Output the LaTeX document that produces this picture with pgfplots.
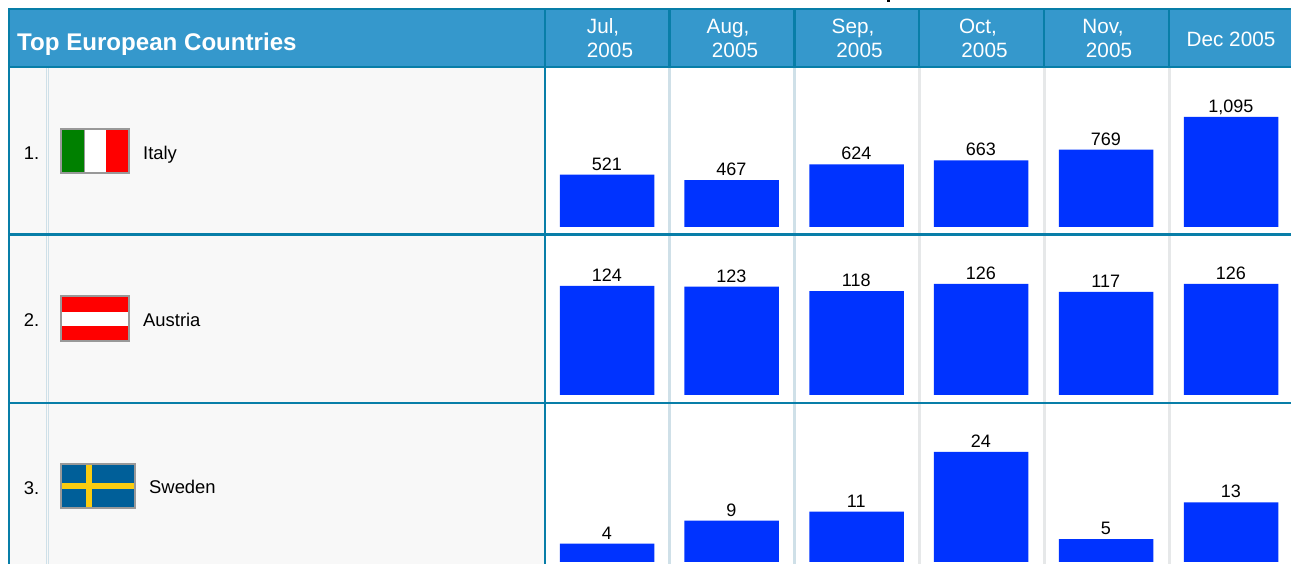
\documentclass[border=0pt]{standalone}
\usepackage{pgfplots}
\usepackage{fontspec}
\setmainfont{Liberation Sans}
\pgfplotsset{compat=1.18}
\definecolor{hdr}{HTML}{3598CC}
\definecolor{edge}{HTML}{087EA8}
\definecolor{cellg}{HTML}{F8F8F8}
\definecolor{barb}{HTML}{0033FF}
\definecolor{sepa}{HTML}{CFE0E8}
\definecolor{sepb}{HTML}{E6E8E9}
\definecolor{flagb}{HTML}{999999}
\definecolor{swe}{HTML}{005F99}
\definecolor{swy}{HTML}{FACC10}
\definecolor{itg}{HTML}{008000}
\newcommand\R[5]{\fill[#1] (axis cs:#2,#3) rectangle (axis cs:#4,#5);}
\newcommand\T[4]{\node[anchor=base,inner sep=0pt,text=#1] at (axis cs:#2,#3) {#4};}
\newcommand\TL[4]{\node[anchor=base west,inner sep=0pt,text=#1] at (axis cs:#2,#3) {#4};}
\pgfplotstableread{
x v
607 521
731.5 467
856.5 624
981 663
1106 769
1231 1095
}\rowone
\pgfplotstableread{
x v
607 124
731.5 123
856.5 118
981 126
1106 117
1231 126
}\rowtwo
\pgfplotstableread{
x v
607 4
731.5 9
856.5 11
981 24
1106 5
1231 13
}\rowthree
\pgfplotsset{rowbar/.style={
  anchor=south west, scale only axis, width=1291pt, xmin=0, xmax=1291, ymin=0,
  axis lines=none, clip=false,
  /pgf/number format/assume math mode=true,
  /pgf/number format/1000 sep={,},
  nodes near coords,
  nodes near coords style={font=\fontsize{18}{18}\selectfont, text=black, anchor=base, inner sep=0pt, yshift=4.5pt, xshift=-0.2pt},
}}
\begin{document}
\begin{tikzpicture}[x=1pt,y=1pt]
\useasboundingbox (0,0) rectangle (1291pt,564pt);
\begin{axis}[at={(0pt,0pt)},anchor=south west,scale only axis,width=1291pt,height=564pt,
  xmin=0,xmax=1291,ymin=0,ymax=564,y dir=reverse,axis lines=none,clip=true]
\addplot[draw=none,forget plot] coordinates {(0,0) (1291,564)};
% left cells
\R{cellg}{10}{68}{545}{564}
% light column separators
\R{sepa}{45.5}{68}{46.5}{564}
\R{sepa}{47.5}{68}{48.5}{564}
\R{sepa}{668}{68}{671}{564}
\R{sepa}{793}{68}{796}{564}
\R{sepb}{917.5}{68}{920.5}{564}
\R{sepb}{1042.5}{68}{1045.5}{564}
\R{sepb}{1167.5}{68}{1170.5}{564}
% header
\R{hdr}{8}{8}{1291}{68}
\R{edge}{8}{8}{1291}{10}
\R{edge}{8}{66}{1291}{68.5}
\R{edge}{8}{8}{10}{564}
\R{edge}{543.5}{8}{546}{564}
\R{edge}{668}{8}{670.5}{68}
\R{edge}{793}{8}{795.5}{68}
\R{edge}{917.5}{8}{920}{68}
\R{edge}{1042.5}{8}{1045}{68}
\R{edge}{1167.5}{8}{1170}{68}
% row rules
\R{edge}{8}{233.5}{1291}{236}
\R{edge}{8}{401.5}{1291}{404}
% clipped title fragment
\R{black}{887}{0}{890}{2}
% header text
\TL{white}{17}{50.5}{\fontsize{24.1}{24.1}\selectfont\bfseries Top European Countries}
\begin{scope}[font=\fontsize{20.7}{20.7}\selectfont]
\T{white}{603}{33.5}{Jul,}
\T{white}{610}{57.5}{2005}
\T{white}{728}{33.5}{Aug,}
\T{white}{735}{57.5}{2005}
\T{white}{853}{33.5}{Sep,}
\T{white}{859.5}{57.5}{2005}
\T{white}{978}{33.5}{Oct,}
\T{white}{984.5}{57.5}{2005}
\T{white}{1103}{33.5}{Nov,}
\T{white}{1109}{57.5}{2005}
\T{white}{1231}{46.5}{Dec 2005}
\end{scope}
% row labels
\begin{scope}[font=\fontsize{18.4}{18.4}\selectfont]
\T{black}{31.5}{159.5}{1.}
\T{black}{31.5}{326}{2.}
\T{black}{31.5}{494}{3.}
\TL{black}{143}{159.5}{Italy}
\TL{black}{143}{326}{Austria}
\TL{black}{149}{493.5}{Sweden}
\end{scope}
% flags
\R{flagb}{60}{128}{130}{174}
\R{itg}{62}{130}{84}{172}
\R{white}{84.5}{130}{106}{172}
\R{red}{106}{130}{128}{172}
\R{flagb}{60}{295}{130}{342}
\R{red}{62}{297}{128}{340}
\R{white}{62}{311.5}{128}{326}
\R{flagb}{60}{463}{136}{509}
\R{swe}{62}{465}{134}{507}
\R{swy}{86}{465}{92}{507}
\R{swy}{62}{483}{134}{488.5}
\end{axis}
\begin{axis}[rowbar,at={(0pt,337pt)},height=110pt,ymax=1095]
\addplot[ybar,bar width=94.5,fill=barb,draw=none] table[x=x,y=v] {\rowone};
\end{axis}
\begin{axis}[rowbar,at={(0pt,169pt)},height=111pt,ymax=126]
\addplot[ybar,bar width=94.5,fill=barb,draw=none] table[x=x,y=v] {\rowtwo};
\end{axis}
\begin{axis}[rowbar,at={(0pt,2pt)},height=110pt,ymax=24]
\addplot[ybar,bar width=94.5,fill=barb,draw=none] table[x=x,y=v] {\rowthree};
\end{axis}
\end{tikzpicture}
\end{document}
